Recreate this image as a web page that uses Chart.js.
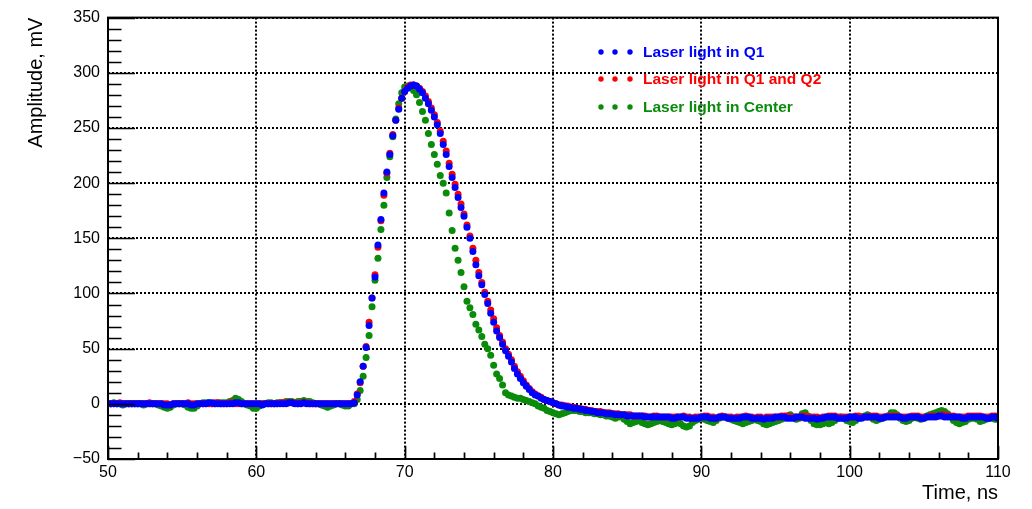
<!DOCTYPE html>
<html>
<head>
<meta charset="utf-8">
<script src="https://cdn.jsdelivr.net/npm/chart.js@4"></script>
<style>
  html, body { margin: 0; padding: 0; background: #fff; }
  #wrap { width: 1032px; height: 509px; }
</style>
</head>
<body>
<div id="wrap"><canvas id="pulseChart"></canvas></div>
<script>
// oscilloscope traces, sampled every 0.2 ns from 50 ns to 110 ns (one line = 2 ns)
const sampleStart = 50;
const sampleStep = 0.2;

const q1Amplitude = [
  0, 0, 0, 0, 0, 0, 0, 0, 0, 0,
  0, 0, 0, 0, 0, 0, 0, 0, 0, -1,
  -1, -1, 0, 0, 0, 0, 0, 0, -1, -1,
  0, 0, 0, 0, 1, 1, 0, 0, 0, 0,
  0, 0, 0, 1, 1, 0, 0, 0, 0, 0,
  0, 0, -1, 0, 0, 0, 0, 0, 0, 0,
  0, 1, 1, 0, 0, 0, 1, 0, 0, 0,
  0, 0, 0, 0, 0, 0, 0, 0, 0, 0,
  0, 0, 0, 1, 8, 20, 34, 51, 71, 96,
  115, 144, 167, 191, 210, 226, 243, 257, 267, 277,
  283, 286, 288, 289, 288, 285, 282, 277, 272, 266,
  260, 253, 245, 235, 226, 215, 205, 196, 187, 178,
  170, 160, 150, 138, 126, 116, 108, 99, 91, 82,
  74, 66, 60, 54, 48, 43, 38, 32, 27, 23,
  19, 16, 13, 10, 8, 7, 5, 4, 3, 2,
  1, 0, -1, -2, -2, -3, -3, -4, -4, -5,
  -5, -6, -6, -7, -7, -8, -8, -8, -9, -9,
  -9, -10, -10, -10, -10, -11, -11, -11, -11, -11,
  -11, -12, -12, -12, -12, -12, -12, -12, -12, -12,
  -13, -13, -12, -12, -12, -13, -13, -13, -13, -13,
  -12, -12, -12, -13, -13, -13, -12, -12, -12, -13,
  -13, -13, -13, -13, -12, -12, -12, -13, -13, -13,
  -13, -14, -13, -13, -13, -12, -12, -12, -12, -13,
  -13, -13, -12, -12, -12, -13, -13, -13, -13, -14,
  -13, -13, -12, -12, -12, -12, -13, -13, -13, -13,
  -12, -12, -12, -13, -13, -12, -12, -12, -12, -12,
  -13, -13, -12, -12, -12, -12, -12, -12, -13, -13,
  -12, -12, -12, -12, -13, -13, -12, -12, -12, -12,
  -11, -11, -12, -12, -12, -12, -12, -12, -13, -13,
  -12, -12, -12, -12, -12, -12, -13, -13, -12, -12,
  -13
];

const q1q2Amplitude = [
  0, 0, 0, 0, 1, 0, 0, 0, 0, 0,
  0, 0, 0, 0, 1, 0, 0, 0, 0, 0,
  0, -1, 0, 0, 0, 0, 0, 1, 0, 0,
  0, 0, 0, 0, 0, 0, 1, 1, 0, 0,
  0, 1, 1, 0, 0, 0, 0, 0, 0, 0,
  0, 0, 0, 0, 0, 0, 0, 0, 1, 1,
  1, 1, 1, 1, 0, 1, 1, 1, 0, 0,
  0, 0, 0, 0, 0, 0, 0, 0, 0, 0,
  0, 0, 0, 2, 9, 19, 34, 52, 74, 96,
  117, 142, 166, 189, 209, 227, 244, 257, 268, 277,
  283, 287, 289, 289, 288, 286, 283, 279, 274, 268,
  262, 255, 247, 238, 229, 218, 208, 199, 190, 181,
  172, 162, 152, 141, 130, 119, 110, 101, 93, 85,
  77, 69, 62, 56, 50, 45, 40, 34, 29, 25,
  21, 17, 14, 11, 9, 7, 6, 4, 3, 2,
  1, 0, -1, -1, -2, -2, -3, -3, -4, -4,
  -5, -5, -6, -6, -7, -7, -7, -8, -8, -8,
  -9, -9, -9, -10, -10, -10, -10, -11, -11, -11,
  -11, -11, -12, -12, -11, -11, -12, -12, -12, -12,
  -12, -12, -12, -12, -11, -12, -12, -13, -12, -12,
  -12, -11, -11, -12, -12, -13, -12, -11, -12, -12,
  -12, -13, -12, -12, -12, -11, -12, -12, -13, -12,
  -12, -13, -12, -12, -12, -12, -12, -11, -11, -11,
  -12, -12, -12, -12, -11, -11, -12, -12, -12, -12,
  -13, -12, -12, -11, -11, -11, -12, -12, -12, -12,
  -12, -12, -11, -11, -12, -12, -12, -11, -11, -11,
  -12, -12, -12, -11, -11, -11, -11, -12, -12, -12,
  -12, -11, -11, -11, -12, -12, -12, -11, -11, -11,
  -11, -10, -10, -11, -11, -11, -12, -12, -12, -12,
  -11, -11, -11, -11, -11, -12, -12, -12, -11, -11,
  -12
];

const centerAmplitude = [
  0, 0, 1, 0, 0, -1, 0, 0, 0, 0,
  0, 0, -1, 0, 0, 0, 0, -1, -2, -3,
  -4, -3, -1, 0, 0, 0, -1, -3, -4, -4,
  -2, 0, 1, 1, 1, 0, 0, 1, 1, 1,
  1, 2, 3, 5, 4, 2, 0, -1, -2, -4,
  -4, -2, 0, 0, 1, 1, 0, 1, 1, 1,
  2, 2, 2, 1, 2, 2, 3, 2, 2, 1,
  0, 0, -1, -2, -3, -2, -1, 0, 0, -1,
  -2, -2, 0, 0, 4, 12, 25, 42, 62, 88,
  112, 132, 158, 180, 205, 224, 242, 258, 272, 282,
  287, 288, 287, 284, 280, 273, 265, 257, 245, 235,
  226, 217, 207, 200, 191, 173, 157, 141, 130, 119,
  106, 93, 87, 81, 72, 67, 61, 54, 50, 44,
  35, 27, 23, 17, 10, 8, 7, 6, 5, 5,
  4, 3, 2, 1, 0, -2, -3, -4, -6, -7,
  -8, -9, -10, -9, -8, -7, -6, -6, -6, -7,
  -7, -8, -8, -8, -9, -9, -10, -10, -11, -11,
  -12, -13, -12, -12, -14, -16, -18, -17, -16, -15,
  -17, -18, -19, -18, -17, -16, -15, -16, -17, -18,
  -19, -18, -17, -18, -20, -21, -20, -17, -15, -14,
  -13, -14, -15, -16, -17, -15, -13, -12, -12, -13,
  -14, -15, -16, -17, -18, -17, -16, -15, -14, -15,
  -16, -18, -19, -18, -17, -16, -15, -14, -13, -11,
  -10, -12, -14, -13, -9, -8, -11, -15, -18, -19,
  -19, -18, -17, -18, -17, -15, -13, -12, -13, -15,
  -16, -17, -15, -13, -12, -11, -10, -12, -14, -15,
  -14, -13, -12, -11, -8, -8, -10, -13, -15, -16,
  -15, -13, -12, -13, -14, -13, -11, -10, -9, -8,
  -7, -6, -7, -9, -12, -15, -17, -18, -17, -16,
  -14, -13, -13, -14, -16, -15, -14, -13, -13, -14,
  -14
];

const seriesLabels = ['Laser light in Q1', 'Laser light in Q1 and Q2', 'Laser light in Center'];
const seriesColors = ['#0000ff', '#ff0000', '#0a8c0a'];

const xTicks = [50, 60, 70, 80, 90, 100, 110];
const xTickLabels = ['50', '60', '70', '80', '90', '100', '110'];
const yTicks = [-50, 0, 50, 100, 150, 200, 250, 300, 350];
const yTickLabels = ['\u221250', '0', '50', '100', '150', '200', '250', '300', '350'];

const times = q1Amplitude.map((_, i) => +(sampleStart + i * sampleStep).toFixed(1));
const toPoints = arr => arr.map((v, i) => ({ x: times[i], y: v }));

const fontFamily = '"Liberation Sans", Arial, Helvetica, sans-serif';

// ROOT style frame with inward ticks
const rootFrame = {
  id: 'rootFrame',
  afterDatasetsDraw(chart) {
    const { ctx, chartArea: a, scales: { x, y } } = chart;
    ctx.save();
    ctx.strokeStyle = '#000';
    ctx.lineWidth = 1.7;
    ctx.beginPath();
    for (let v = x.min; v <= x.max + 1e-6; v += 2) {
      const px = Math.round(x.getPixelForValue(v)) + 0.5;
      const len = xTicks.includes(Math.round(v)) ? 13 : 6.5;
      ctx.moveTo(px, a.bottom);
      ctx.lineTo(px, a.bottom - len);
    }
    for (let v = y.min; v <= y.max + 1e-6; v += 10) {
      const py = Math.round(y.getPixelForValue(v)) + 0.5;
      const len = yTicks.includes(Math.round(v)) ? 27 : 13.5;
      ctx.moveTo(a.left, py);
      ctx.lineTo(a.left + len, py);
    }
    ctx.stroke();
    ctx.lineWidth = 2;
    ctx.strokeRect(a.left, a.top, a.right - a.left, a.bottom - a.top);
    ctx.restore();
  }
};

const markerLegend = {
  id: 'markerLegend',
  afterDraw(chart) {
    const { ctx } = chart;
    ctx.save();
    ctx.font = 'bold 15.5px ' + fontFamily;
    ctx.textBaseline = 'middle';
    const rows = [52, 79, 107];
    chart.data.datasets.forEach((ds, i) => {
      const yy = rows[i];
      ctx.fillStyle = ds.backgroundColor;
      [601, 615, 630].forEach(xx => {
        ctx.beginPath();
        ctx.arc(xx, yy, 2.7, 0, Math.PI * 2);
        ctx.fill();
      });
      ctx.fillText(ds.label, 643, yy + 1);
    });
    ctx.restore();
  }
};

const makeSet = (label, color, data, order) => ({
  label: label,
  data: toPoints(data),
  backgroundColor: color,
  borderWidth: 0,
  pointRadius: 3.5,
  pointHoverRadius: 3.5,
  showLine: false,
  clip: 0,
  order: order
});

new Chart(document.getElementById('pulseChart').getContext('2d'), {
  type: 'scatter',
  data: {
    datasets: [
      makeSet(seriesLabels[0], seriesColors[0], q1Amplitude, 1),
      makeSet(seriesLabels[1], seriesColors[1], q1q2Amplitude, 2),
      makeSet(seriesLabels[2], seriesColors[2], centerAmplitude, 3)
    ]
  },
  options: {
    responsive: true,
    maintainAspectRatio: false,
    animation: false,
    layout: { padding: { left: 0, top: 12, right: 34, bottom: 0 } },
    plugins: { legend: { display: false }, tooltip: { enabled: false } },
    scales: {
      x: {
        type: 'linear',
        min: 50,
        max: 110,
        afterBuildTicks: s => { s.ticks = xTicks.map(v => ({ value: v })); },
        afterFit: s => { s.height = 50; },
        grid: { color: '#000', lineWidth: 2, drawTicks: false },
        border: { display: false, dash: [2, 2] },
        ticks: {
          color: '#000', padding: 4, maxRotation: 0, autoSkip: false,
          font: { family: fontFamily, size: 16 },
          callback: (v, i) => xTickLabels[i]
        },
        title: {
          display: true, text: 'Time, ns', align: 'end', color: '#000',
          font: { family: fontFamily, size: 20 },
          padding: { top: 0, bottom: 4 }
        }
      },
      y: {
        type: 'linear',
        min: -50,
        max: 350,
        afterBuildTicks: s => { s.ticks = yTicks.map(v => ({ value: v })); },
        afterFit: s => { s.width = 108; },
        grid: { color: '#000', lineWidth: 2, drawTicks: false },
        border: { display: false, dash: [2, 2] },
        ticks: {
          color: '#000', padding: 8, autoSkip: false,
          font: { family: fontFamily, size: 16 },
          callback: (v, i) => yTickLabels[i]
        },
        title: {
          display: true, text: 'Amplitude, mV', align: 'end', color: '#000',
          font: { family: fontFamily, size: 20 },
          padding: { top: 24, bottom: 0 }
        }
      }
    }
  },
  plugins: [rootFrame, markerLegend]
});
</script>
</body>
</html>
